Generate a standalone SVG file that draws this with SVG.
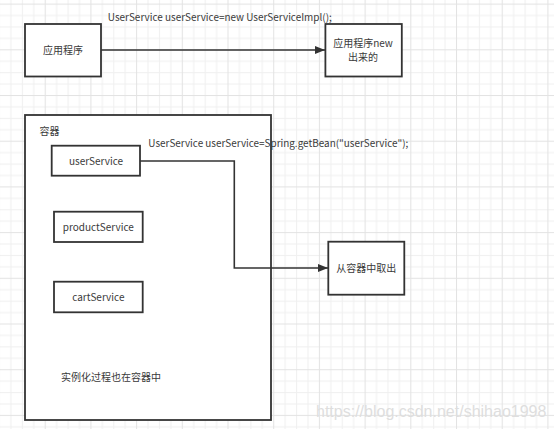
<svg xmlns="http://www.w3.org/2000/svg" width="554" height="429" viewBox="0 0 554 429">
<style>
.box{fill:#fff;stroke:#333;stroke-width:1.8}
.conn{fill:none;stroke:#333;stroke-width:1.6}
.t{font-family:"Noto Sans CJK SC","Liberation Sans",sans-serif;font-size:10px;fill:#3a3a3a}
.c{text-anchor:middle}
.wm{font-family:"Liberation Sans",Arial,sans-serif;font-size:16px;fill:#dedede}
</style>
<defs>
<pattern id="grid" patternUnits="userSpaceOnUse" x="-1" y="3.6" width="45.7" height="45.7">
<rect width="45.7" height="45.7" fill="#fff"/>
<g fill="#f0f0f0">
<rect x="11.43" y="0" width="1" height="45.7"/>
<rect x="22.85" y="0" width="1" height="45.7"/>
<rect x="34.28" y="0" width="1" height="45.7"/>
<rect x="0" y="11.43" width="45.7" height="1"/>
<rect x="0" y="22.85" width="45.7" height="1"/>
<rect x="0" y="34.28" width="45.7" height="1"/>
</g>
<g fill="#e3e3e3">
<rect x="0" y="0" width="1" height="45.7"/>
<rect x="0" y="0" width="45.7" height="1"/>
</g>
</pattern>
<marker id="arr" markerWidth="10" markerHeight="8" refX="10" refY="4" orient="auto" markerUnits="userSpaceOnUse">
<path d="M0,0 L10,4 L0,8 Z" fill="#333"/>
</marker>
</defs>
<rect width="554" height="429" fill="url(#grid)"/>
<g id="container">
<rect class="box" x="25" y="115" width="246" height="305"/>
<text class="t" x="39.5" y="134.5">容器</text>
<text class="t" x="61" y="380.5">实例化过程也在容器中</text>
</g>
<g id="connectors">
<path class="conn" d="M101,50 L325,50" marker-end="url(#arr)"/>
<path class="conn" d="M140,161 L234.3,161 L234.3,268 L328,268" marker-end="url(#arr)"/>
<text class="t" x="107.8" y="21" textLength="224" lengthAdjust="spacingAndGlyphs">UserService userService=new UserServiceImpl();</text>
<text class="t" x="148.3" y="146.5" textLength="260" lengthAdjust="spacingAndGlyphs">UserService userService=Spring.getBean("userService");</text>
</g>
<g id="app">
<rect class="box" x="25" y="24" width="76" height="52.5"/>
<text class="t c" x="63" y="53.5">应用程序</text>
</g>
<g id="newobj">
<rect class="box" x="325.4" y="24" width="76.4" height="52.5"/>
<text class="t c" x="363" y="46.5"><tspan x="363">应用程序new</tspan><tspan x="363" dy="14.6">出来的</tspan></text>
</g>
<g id="userService">
<rect class="box" x="51.7" y="145.7" width="88.3" height="30"/>
<text class="t c" x="96" y="164.5">userService</text>
</g>
<g id="productService">
<rect class="box" x="54" y="211.7" width="88.7" height="30.3"/>
<text class="t c" x="98.3" y="230.5">productService</text>
</g>
<g id="cartService">
<rect class="box" x="54" y="281.7" width="88.7" height="30.6"/>
<text class="t c" x="98.3" y="300.5">cartService</text>
</g>
<g id="fromContainer">
<rect class="box" x="328.3" y="241.7" width="76" height="53"/>
<text class="t c" x="366.3" y="271.5">从容器中取出</text>
</g>
<text class="wm" x="316" y="416.5">https://blog.csdn.net/shihao1998</text>
</svg>
